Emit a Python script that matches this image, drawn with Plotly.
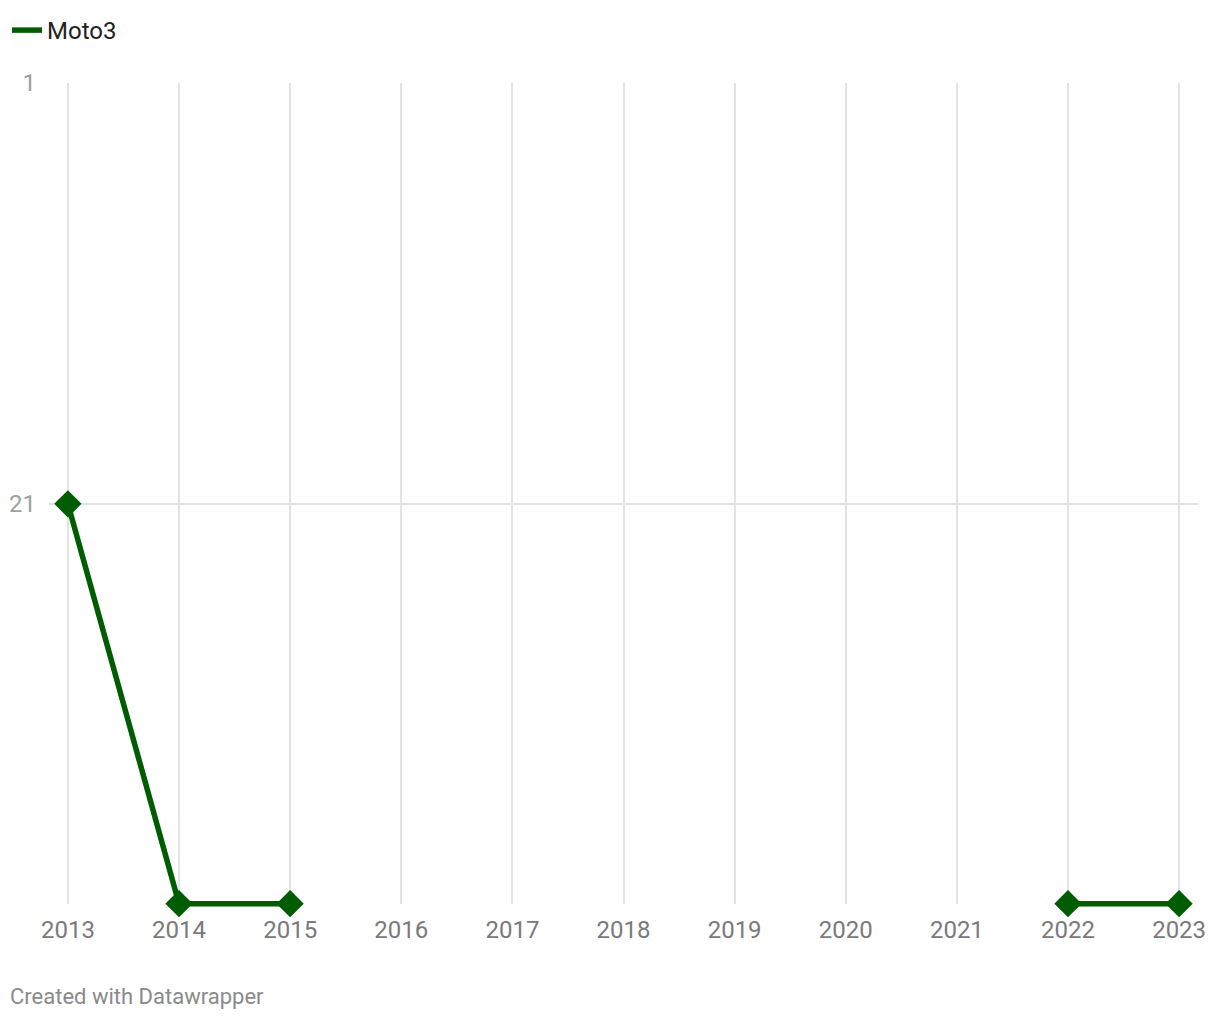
import plotly.graph_objects as go

years = [2013, 2014, 2015, 2016, 2017, 2018, 2019, 2020, 2021, 2022, 2023]
moto3 = [21, 40, 40, None, None, None, None, None, None, 40, 40]
y_ticks = [1, 21]
series_name = "Moto3"

GREEN = "#005c00"
W, H = 1220, 1020
Y_TOP, Y_BOT, Y_PAD = 1, 40, 0.35
PX_PER_UNIT = 21.05
ML, MR, MT = 49, 22, 83
PH = (Y_BOT + Y_PAD - Y_TOP) * PX_PER_UNIT
MB = H - MT - PH
PW = W - ML - MR

fig = go.Figure()
fig.add_trace(go.Scatter(
    x=years, y=moto3, mode="lines", name=series_name,
    line=dict(color=GREEN, width=5.5), connectgaps=False, showlegend=True,
    cliponaxis=False, hoverinfo="skip"))
fig.add_trace(go.Scatter(
    x=years, y=moto3, mode="markers", name=series_name, cliponaxis=False,
    marker=dict(symbol="diamond", size=21, color=GREEN), showlegend=False))

fig.update_layout(
    width=W, height=H,
    margin=dict(l=ML, r=MR, t=MT, b=MB, autoexpand=False),
    paper_bgcolor="white", plot_bgcolor="white",
    font=dict(family="Roboto", size=22, color="#333333"),
    legend=dict(
        orientation="h", xref="container", yref="container",
        x=7 / W, y=1 - 8 / H, xanchor="left", yanchor="top",
        font=dict(family="Roboto", size=24, color="#222222"),
        itemwidth=30, bgcolor="rgba(0,0,0,0)"),
    xaxis=dict(
        range=[2012.83, 2023.17], tickvals=years, ticktext=[str(y) for y in years],
        showgrid=False, zeroline=False, showline=False, layer="below traces",
        anchor="free", position=Y_PAD / (Y_BOT + Y_PAD - Y_TOP),
        ticks="inside", ticklen=(Y_BOT - Y_TOP) * PX_PER_UNIT, tickwidth=2, tickcolor="#e3e3e3",
        tickfont=dict(family="Roboto", size=24, color="#7a7a7a"),
        ticklabelstandoff=9),
    yaxis=dict(
        range=[Y_BOT + Y_PAD, Y_TOP], tickvals=y_ticks, ticktext=[str(v) for v in y_ticks],
        showgrid=True, gridcolor="#e3e3e3", gridwidth=2, zeroline=False,
        showline=False, ticks="", layer="below traces",
        tickfont=dict(family="Roboto", size=24, color="#a0a0a0"),
        ticklabelstandoff=12),
    annotations=[dict(
        text="Created with Datawrapper", xref="paper", yref="paper",
        x=(8 - ML) / PW, y=-(997 - (MT + PH)) / PH, xanchor="left", yanchor="middle",
        showarrow=False, font=dict(family="Roboto", size=22, color="#8a8a8a"))],
)

fig.write_html("out.html", config={"displayModeBar": False},
               post_script="document.body.style.margin='0px';")
